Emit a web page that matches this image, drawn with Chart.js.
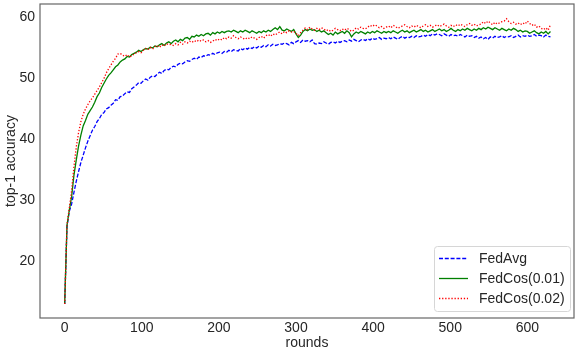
<!DOCTYPE html>
<html lang="en">
<head>
<meta charset="UTF-8">
<title>top-1 accuracy</title>
<script src="https://cdn.jsdelivr.net/npm/chart.js"></script>
<style>
    html, body { margin: 0; padding: 0; background: #fff; }
</style>
</head>
<body>
<canvas id="myChart" width="582" height="356"></canvas>
<script>
    // rounds sampled every 3 rounds (0 ... 630)
    var rounds = Array.from({ length: 211 }, function (_, i) { return i * 3; });

    var fedAvg = [
        12.9, 25.6, 28.1, 29.3, 31.2, 33.0, 34.6, 36.1, 37.3, 38.5,
        39.6, 40.5, 41.4, 42.0, 42.8, 43.3, 44.0, 44.3, 44.9, 45.1,
        45.5, 45.8, 46.4, 46.3, 46.9, 47.0, 47.4, 47.7, 47.6, 48.2,
        48.5, 48.8, 49.2, 49.1, 49.5, 49.8, 49.6, 50.1, 50.3, 50.2,
        50.6, 50.9, 50.7, 51.2, 51.4, 51.3, 51.7, 51.9, 51.8, 52.2,
        52.4, 52.3, 52.6, 52.8, 52.7, 53.0, 53.2, 53.0, 53.4, 53.3,
        53.6, 53.5, 53.8, 53.7, 54.0, 53.8, 54.1, 54.2, 54.0, 54.3,
        54.2, 54.5, 54.3, 54.6, 54.5, 54.4, 54.8, 54.6, 54.9, 54.7,
        55.0, 54.8, 55.1, 54.9, 55.2, 55.0, 55.3, 55.1, 55.4, 55.2,
        55.5, 55.3, 55.4, 55.6, 55.5, 55.7, 55.6, 55.4, 55.8, 55.6,
        55.9, 56.1, 55.8, 56.2, 56.0, 56.1, 55.9, 56.2, 55.6, 55.5,
        55.7, 55.6, 55.9, 55.7, 55.5, 55.8, 55.9, 55.7, 56.0, 55.8,
        56.0, 56.1, 55.9, 56.2, 56.0, 56.3, 56.1, 55.9, 56.2, 56.3,
        56.1, 56.4, 56.2, 56.5, 56.3, 56.4, 56.6, 56.3, 56.5, 56.4,
        56.6, 56.4, 56.7, 56.5, 56.3, 56.6, 56.8, 56.5, 56.7, 56.6,
        56.8, 56.6, 56.9, 56.7, 56.8, 57.0, 56.8, 57.1, 56.9, 57.2,
        57.0, 57.2, 57.1, 56.9, 57.2, 57.0, 56.8, 57.1, 56.9, 57.0,
        56.8, 57.1, 56.9, 56.7, 57.0, 56.8, 56.9, 56.6, 56.8, 56.5,
        56.7, 56.4, 56.6, 56.3, 56.7, 56.5, 56.8, 56.6, 56.7, 56.9,
        56.6, 56.8, 56.7, 56.9, 56.6, 56.8, 57.0, 56.7, 56.9, 56.8,
        57.0, 56.8, 56.9, 57.1, 56.8, 57.0, 56.9, 56.7, 57.0, 56.8,
        56.7
    ];

    var fedCos001 = [
        12.9, 25.8, 28.3, 30.5, 34.0, 36.5, 38.8, 40.6, 42.1, 43.0,
        44.0, 44.6, 45.2, 46.0, 46.9, 47.5, 48.4, 49.1, 49.8, 50.4,
        50.8, 51.3, 51.8, 52.1, 52.6, 52.9, 53.1, 53.5, 53.4, 53.8,
        54.0, 54.2, 54.5, 54.3, 54.6, 54.8, 54.7, 55.0, 54.9, 55.2,
        55.1, 55.4, 55.6, 55.3, 55.7, 55.9, 55.6, 56.0, 56.2, 55.9,
        56.3, 56.1, 56.5, 56.6, 56.3, 56.8, 56.7, 57.0, 56.8, 57.1,
        56.9, 57.2, 57.3, 57.0, 57.4, 57.2, 57.5, 57.3, 57.6, 57.4,
        57.6, 57.7, 57.5, 57.8, 57.6, 57.4, 57.7, 57.5, 57.8, 57.6,
        57.4, 57.7, 57.5, 57.3, 57.6, 57.4, 57.7, 57.5, 57.8, 57.6,
        57.9, 58.2, 57.9, 58.4, 57.8, 57.7, 58.0, 57.8, 57.6, 57.9,
        57.2, 56.6, 57.0, 57.6, 57.9, 57.7, 58.0, 57.8, 57.9, 57.6,
        57.8, 57.5, 57.7, 57.4, 57.1, 57.3, 57.0, 57.5, 57.2, 57.4,
        57.6, 57.3, 57.7, 57.4, 56.7, 57.2, 57.5, 57.3, 57.6, 57.4,
        57.2, 57.5, 57.3, 57.6, 57.4, 57.7, 57.5, 57.3, 57.6, 57.4,
        57.6, 57.4, 57.7, 57.5, 57.3, 57.6, 57.8, 57.5, 57.7, 57.4,
        57.6, 57.8, 57.5, 57.7, 57.9, 57.6, 57.8, 57.5, 57.7, 57.9,
        57.6, 57.8, 58.0, 57.7, 57.9, 57.6, 57.8, 58.1, 57.8, 57.6,
        57.9, 57.7, 58.0, 57.8, 58.1, 57.9, 57.7, 58.0, 57.8, 58.1,
        57.9, 58.2, 58.0, 58.3, 58.1, 57.9, 58.2, 58.0, 57.8, 58.1,
        57.9, 57.7, 58.0, 57.8, 58.1, 57.9, 57.6, 57.8, 57.5, 57.7,
        57.6, 57.3, 57.5, 57.7, 57.4, 57.2, 57.5, 57.3, 57.6, 57.2,
        57.6
    ];

    var fedCos002 = [
        12.9, 25.9, 28.6, 31.5, 35.4, 38.6, 41.0, 42.8, 44.0, 44.9,
        45.6, 46.2, 46.7, 47.3, 47.9, 48.5, 49.2, 49.9, 50.8, 51.5,
        52.1, 52.7, 53.2, 53.9, 54.0, 53.7, 53.5, 53.8, 53.4, 53.6,
        53.9, 54.1, 54.3, 54.1, 54.5, 54.8, 54.6, 55.0, 54.7, 55.1,
        55.3, 55.0, 55.4, 55.2, 55.6, 55.4, 55.5, 55.3, 55.6, 55.4,
        55.8, 55.5, 55.9, 55.7, 56.0, 55.8, 56.1, 55.9, 56.2, 56.0,
        56.2, 55.9, 56.1, 55.8, 56.0, 56.3, 56.1, 56.4, 56.2, 56.6,
        56.4, 56.7, 56.5, 56.9, 56.6, 56.4, 56.7, 56.5, 56.3, 56.6,
        56.4, 56.7, 56.5, 56.3, 56.6, 56.8, 56.5, 56.9, 57.1, 56.8,
        57.2, 57.0, 57.3, 57.5, 57.2, 57.6, 57.4, 57.7, 57.5, 57.6,
        57.3, 56.9, 57.4, 57.8, 58.2, 57.9, 58.3, 58.0, 57.8, 58.1,
        57.9, 58.2, 58.0, 57.7, 57.9, 57.6, 57.8, 58.1, 57.9, 57.7,
        58.0, 57.8, 58.1, 57.9, 57.6, 57.8, 58.2, 58.0, 58.3, 58.1,
        58.0, 58.3, 58.6, 58.4, 58.7, 58.5, 58.2, 58.4, 58.1, 58.3,
        58.5, 58.2, 58.6, 58.4, 58.1, 58.3, 58.5, 58.7, 58.4, 58.2,
        58.5, 58.3, 58.6, 58.4, 58.2, 58.5, 58.7, 58.4, 58.6, 58.3,
        58.5, 58.7, 58.4, 58.6, 58.8, 58.5, 58.3, 58.6, 58.4, 58.7,
        58.5, 58.8, 58.6, 58.4, 58.7, 58.9, 58.6, 58.8, 58.5, 58.7,
        58.8, 59.2, 58.9, 59.3, 59.0, 58.7, 59.1, 58.8, 59.0, 59.2,
        59.3, 59.7, 59.2, 58.9, 59.1, 58.8, 59.0, 58.7, 59.0, 58.8,
        59.3, 58.9, 58.6, 58.8, 58.3, 58.5, 58.1, 57.9, 58.2, 57.8,
        58.7
    ];

    var xTicks = [0, 100, 200, 300, 400, 500, 600];
    var yTicks = [20, 30, 40, 50, 60];

    function points(values) {
        return values.map(function (v, i) { return { x: rounds[i], y: v }; });
    }

    var font = { family: '"Liberation Sans", Arial, sans-serif', size: 14 };
    var textColor = '#262626';

    // axes frame + legend box in the lower right corner
    var extras = {
        id: 'extras',
        afterDraw: function (chart) {
            var a = chart.chartArea;
            var ctx = chart.ctx;
            ctx.save();
            ctx.strokeStyle = '#666';
            ctx.lineWidth = 1.2;
            ctx.strokeRect(a.left, a.top, a.right - a.left, a.bottom - a.top);

            var bw = 136, bh = 65;
            var bx = a.right - 4 - bw, by = a.bottom - 7 - bh;
            ctx.beginPath();
            ctx.roundRect(bx + 0.5, by + 0.5, bw, bh, 3);
            ctx.fillStyle = 'rgba(255,255,255,0.85)';
            ctx.fill();
            ctx.strokeStyle = '#d6d6d6';
            ctx.lineWidth = 1;
            ctx.stroke();

            ctx.font = '14px "Liberation Sans", Arial, sans-serif';
            ctx.textBaseline = 'middle';
            ctx.fillStyle = textColor;
            chart.data.datasets.forEach(function (ds, i) {
                var y = by + 12.5 + i * 20;
                ctx.beginPath();
                ctx.setLineDash(ds.borderDash || []);
                ctx.strokeStyle = ds.borderColor;
                ctx.lineWidth = ds.borderWidth;
                ctx.moveTo(bx + 5, y);
                ctx.lineTo(bx + 34, y);
                ctx.stroke();
                ctx.setLineDash([]);
                ctx.fillText(ds.label, bx + 45, y + 1);
            });
            ctx.restore();
        }
    };

    var ctx = document.getElementById('myChart').getContext('2d');
    var myChart = new Chart(ctx, {
        type: 'line',
        data: {
            datasets: [{
                label: 'FedAvg',
                data: points(fedAvg),
                borderColor: '#0000ff',
                borderWidth: 1.3,
                borderDash: [4, 1.8],
                order: 2
            },
            {
                label: 'FedCos(0.01)',
                data: points(fedCos001),
                borderColor: '#008000',
                borderWidth: 1.3,
                order: 1
            },
            {
                label: 'FedCos(0.02)',
                data: points(fedCos002),
                borderColor: '#ff0000',
                borderWidth: 1.3,
                borderDash: [1.3, 1.8],
                order: 0
            }]
        },
        options: {
            responsive: false,
            animation: false,
            elements: { point: { radius: 0 }, line: { tension: 0 } },
            layout: { padding: { left: 0, top: 4, right: 8, bottom: 0 } },
            plugins: { legend: { display: false }, tooltip: { enabled: false } },
            scales: {
                x: {
                    type: 'linear',
                    min: -32,
                    max: 660.5,
                    grid: { display: false, drawTicks: false },
                    border: { display: false },
                    afterBuildTicks: function (s) { s.ticks = xTicks.map(function (v) { return { value: v }; }); },
                    afterFit: function (s) { s.height = 38; s.paddingLeft = 0; s.paddingRight = 0; },
                    ticks: { font: font, color: textColor, padding: 2, maxRotation: 0 },
                    title: { display: true, text: 'rounds', font: font, color: textColor, padding: 4 }
                },
                y: {
                    min: 10.6,
                    max: 62.1,
                    grid: { display: false, drawTicks: false },
                    border: { display: false },
                    afterBuildTicks: function (s) { s.ticks = yTicks.map(function (v) { return { value: v }; }); },
                    afterFit: function (s) { s.width = 40; s.paddingTop = 0; s.paddingBottom = 0; },
                    ticks: { font: font, color: textColor, padding: 5 },
                    title: { display: true, text: 'top-1 accuracy', font: font, color: textColor, padding: 3 }
                }
            }
        },
        plugins: [extras]
    });
</script>
</body>
</html>
